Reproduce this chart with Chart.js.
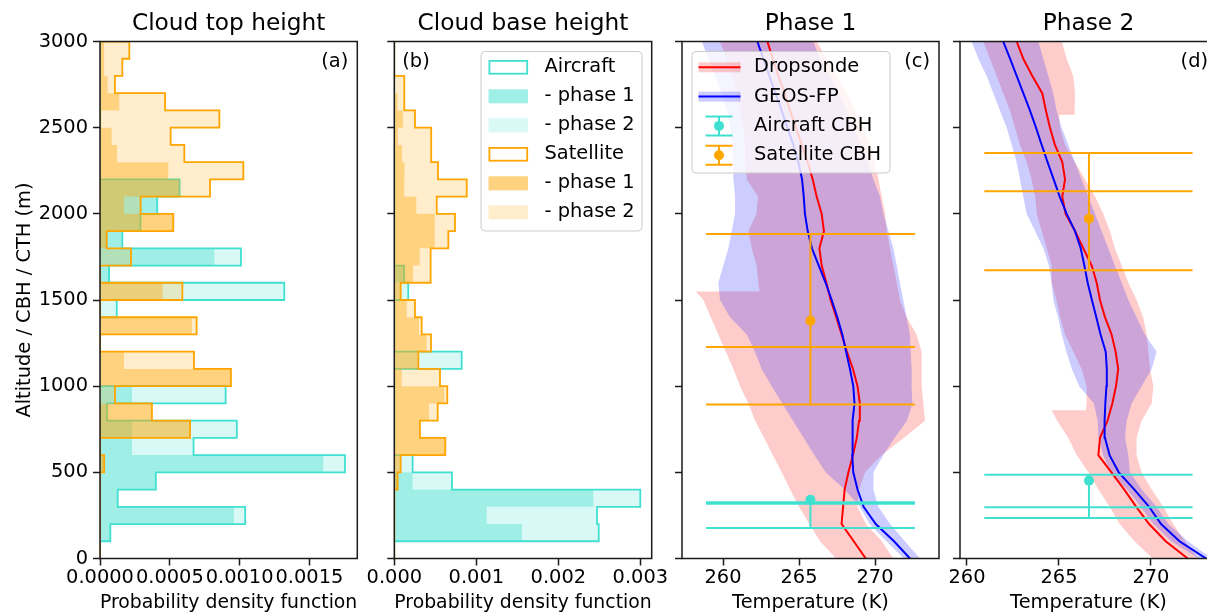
<!DOCTYPE html>
<html>
<head>
<meta charset="utf-8">
<title>Cloud heights and temperature profiles</title>
<script src="https://cdn.jsdelivr.net/npm/chart.js@4.4.1/dist/chart.umd.min.js"></script>
<style>
  html, body { margin: 0; padding: 0; background: #fff; overflow: hidden; }
  #fig { position: relative; width: 1207px; height: 613px; overflow: hidden; }
  #fig canvas { position: absolute; left: 0; top: 0; }
</style>
</head>
<body>
<div id="fig">
  <canvas id="panelA" width="1240" height="613"></canvas>
  <canvas id="panelB" width="1240" height="613"></canvas>
  <canvas id="panelC" width="1240" height="613"></canvas>
  <canvas id="panelD" width="1240" height="613"></canvas>
</div>
<script>
// ── histogram bins (lower edge, m) ──
const binLow = [0, 100, 200, 300, 400, 500, 600, 700, 800, 900, 1000, 1100, 1200, 1300, 1400,
  1500, 1600, 1700, 1800, 1900, 2000, 2100, 2200, 2300, 2400, 2500, 2600, 2700, 2800, 2900];
const BIN = 100;

// (a) cloud top height – probability density, stacked phase 1 + phase 2
const ctaAirP1 = [0, 0.000074, 0.00096, 0.000127, 0.0004, 0.0016, 0.00023, 0.00023, 0.00005, 0.00023,
  0, 0, 0, 0, 0, 0, 0.000065, 0.00082, 0.00016, 0.00029, 0.00041, 0.00057, 0, 0, 0, 0, 0, 0, 0, 0];
const ctaAirP2 = [0, 0, 0.00008, 0, 0, 0.000155, 0.00044, 0.00075, 0, 0.00067,
  0, 0, 0, 0, 0.00012, 0.00132, 0, 0.00019, 0, 0, 0, 0, 0, 0, 0, 0, 0, 0, 0, 0];
const ctaSatP1 = [0, 0, 0, 0, 0, 0.00003, 0, 0.000645, 0.000372, 0,
  0.000938, 0.000172, 0, 0.000659, 0, 0.000449, 0, 0, 0.000048, 0.000525,
  0.000172, 0.00057, 0.00049, 0.000122, 0.000084, 0.00001, 0.000138, 0.000055, 0.00003, 0.00003];
const ctaSatP2 = [0, 0, 0, 0, 0, 0, 0, 0, 0, 0.000107,
  0, 0.000501, 0, 0.000033, 0, 0.000141, 0, 0.000222, 0, 0,
  0.000119, 0.000218, 0.000537, 0.000482, 0.000422, 0.000845, 0.000328, 0.000052, 0.00013, 0.00018];

// (b) cloud base height
const cbhAirP1 = [0, 0.001557, 0.001127, 0.002427, 0.000224, 0, 0, 0, 0, 0,
  0, 0, 0, 0, 0, 0, 0.00012, 0, 0, 0, 0, 0, 0, 0, 0, 0, 0, 0, 0, 0];
const cbhAirP2 = [0, 0.000936, 0.001345, 0.000573, 0.00048, 0.000224, 0, 0, 0, 0,
  0, 0.000822, 0, 0, 0, 0.00017, 0, 0, 0, 0, 0, 0, 0, 0, 0, 0, 0, 0, 0, 0];
const cbhSatP1 = [0, 0, 0, 0, 0.00004, 0.000078, 0.000622, 0.000313, 0.000423, 0.00061,
  0.00009, 0.000293, 0.000395, 0.000301, 0.000151, 0.000078, 0.000228, 0.00031, 0.000496, 0.000493,
  0.00027, 0.00013, 0.00012, 0.000094, 0.000045, 0.000106, 0.00004, 0, 0, 0];
const cbhSatP2 = [0, 0, 0, 0, 0, 0, 0, 0, 0.000106, 0.000036,
  0.000467, 0, 0.000053, 0.000033, 0.000101, 0, 0.000215, 0.000133, 0.000163, 0.000247,
  0.000247, 0.000753, 0.000413, 0.000356, 0.000405, 0.000146, 0.000082, 0.000122, 0, 0];

// ── temperature profiles (K) on altitude levels ──
const profAlt = [0, 100, 200, 300, 400, 500, 600, 700, 800, 900, 1000, 1100, 1200, 1300, 1400, 1500,
  1600, 1700, 1800, 1900, 2000, 2100, 2200, 2300, 2400, 2500, 2600, 2700, 2800, 2900, 3000];

// Phase 1
const dropT1 = [269.39, 268.60, 267.80, 267.90, 268.00, 268.25, 268.55, 268.80, 268.95, 269.00, 268.85,
  268.55, 268.15, 267.80, 267.45, 267.08, 266.80, 266.49, 266.34, 266.64, 266.49, 266.16, 265.90,
  265.57, 265.18, 264.80, 264.41, 264.06, 263.64, 263.27, 262.92];
// left edge of the dropsonde spread has a step near 1550 m
const dropLoAlt1 = [0, 100, 200, 300, 400, 500, 600, 700, 800, 900, 1000, 1100, 1200, 1300, 1400, 1500,
  1550, 1550, 1600, 1700, 1800, 1900, 2000, 2100, 2200, 2300, 2400, 2500, 2600, 2700, 2800, 2900, 3000];
const dropLo1 = [267.43, 266.38, 265.68, 265.00, 264.41, 263.86, 263.27, 262.70, 262.11, 261.67, 261.12,
  260.68, 260.18, 259.69, 259.19, 258.71, 258.20, 262.40, 262.32, 262.21, 261.89, 261.67, 262.20,
  262.30, 261.56, 261.45, 261.45, 261.34, 261.12, 260.90, 260.57, 260.24, 259.80];
const dropHi1 = [271.20, 270.45, 269.40, 268.85, 268.95, 269.35, 270.44, 271.91, 273.29, 273.18, 273.07,
  273.07, 273.07, 272.74, 272.08, 271.64, 271.43, 271.21, 270.99, 270.77, 270.66, 270.44, 270.22,
  270.00, 269.67, 269.23, 268.68, 268.14, 267.48, 266.82, 266.16];
const geosT1 = [272.30, 271.25, 270.05, 269.25, 268.85, 268.57, 268.50, 268.50, 268.55, 268.65, 268.57,
  268.35, 268.10, 267.85, 267.52, 267.15, 266.75, 266.30, 265.85, 265.57, 265.39, 265.31, 265.20,
  264.96, 264.63, 264.23, 263.86, 263.44, 263.05, 262.65, 262.26];
const geosLo1 = [271.90, 270.75, 269.65, 269.00, 268.00, 266.75, 266.00, 265.30, 264.60, 263.90, 263.20,
  262.54, 262.10, 261.56, 260.46, 259.80, 259.69, 260.02, 260.35, 260.57, 260.79, 260.79, 260.68,
  260.68, 260.57, 260.46, 260.24, 259.91, 259.47, 259.04, 258.60];
const geosHi1 = [272.96, 271.97, 270.99, 270.22, 269.89, 269.90, 270.55, 271.30, 272.10, 272.46, 272.41,
  272.41, 272.35, 272.30, 272.08, 271.86, 271.64, 271.43, 271.21, 270.88, 270.55, 270.33, 269.89,
  269.56, 269.12, 268.57, 268.14, 267.59, 267.04, 266.38, 265.94];

// Phase 2
const dropT2 = [272.00, 270.80, 269.90, 269.20, 268.55, 267.85, 267.14, 267.23, 267.64, 267.90, 268.10,
  268.22, 268.08, 267.86, 267.50, 267.23, 267.05, 266.78, 266.32, 265.87, 265.36, 265.18, 265.33,
  265.18, 264.78, 264.51, 264.29, 264.09, 263.55, 263.06, 262.70];
// dropsonde spread edges with steps near 860 m (left) and 2575 m (right)
const dropLoAlt2 = [0, 100, 200, 300, 400, 500, 600, 700, 800, 860, 860, 900, 1000, 1100, 1200, 1300,
  1400, 1500, 1600, 1700, 1800, 1900, 2000, 2100, 2200, 2300, 2400, 2500, 2600, 2700, 2800, 2900, 3000];
const dropLo2 = [270.10, 269.10, 268.30, 267.75, 267.15, 266.60, 265.96, 265.50, 264.90, 264.60, 266.45,
  266.50, 266.50, 266.23, 265.78, 265.33, 265.06, 264.87, 264.60, 264.60, 264.33, 264.06, 263.79,
  263.70, 263.51, 263.24, 262.88, 262.61, 262.34, 261.97, 261.61, 261.25, 260.89];
const dropHiAlt2 = [0, 100, 200, 300, 400, 500, 600, 700, 800, 900, 1000, 1100, 1200, 1300, 1400, 1500,
  1600, 1700, 1800, 1900, 2000, 2100, 2200, 2300, 2400, 2500, 2575, 2575, 2700, 2800, 2900, 3000];
const dropHi2 = [272.57, 271.85, 271.21, 270.67, 270.04, 269.49, 269.22, 269.22, 269.49, 270.04, 270.13,
  269.95, 269.86, 269.77, 269.58, 269.22, 268.77, 268.41, 268.04, 267.77, 267.41, 266.96, 266.41,
  265.87, 265.33, 265.05, 265.00, 265.85, 265.87, 265.78, 265.42, 265.15];
const geosT2 = [273.00, 271.55, 270.55, 269.90, 269.10, 268.25, 267.75, 267.50, 267.48, 267.52, 267.58,
  267.60, 267.54, 267.26, 267.03, 266.79, 266.56, 266.38, 266.18, 265.87, 265.42, 265.04, 264.71,
  264.38, 264.06, 263.75, 263.42, 263.06, 262.70, 262.34, 261.97];
const geosLo2 = [272.60, 271.10, 270.13, 269.45, 268.70, 267.80, 267.40, 267.15, 267.10, 266.90, 266.10,
  265.70, 265.40, 265.15, 264.95, 264.69, 264.60, 264.45, 264.15, 263.70, 263.24, 263.06, 262.88,
  262.70, 262.43, 262.16, 261.79, 261.43, 261.07, 260.62, 260.25];
const geosHi2 = [273.30, 272.00, 270.95, 270.30, 269.50, 268.86, 268.77, 268.59, 268.68, 268.95, 269.49,
  270.04, 270.31, 269.67, 269.22, 268.77, 268.41, 268.04, 267.68, 267.32, 266.96, 266.59, 266.23,
  265.87, 265.51, 265.15, 264.87, 264.69, 264.42, 264.15, 263.88];

// cloud base height markers: [phase 1, phase 2]
const cbhMarkT = [265.75, 266.63];
const airCbhMean = [341, 452];
const airCbhLevels = [[326, 318, 177], [486, 297, 235]];
const satCbhMean = [1380, 1972];
const satCbhLevels = [[1883, 1227, 893], [2353, 2131, 1672]];
const capSpan = [[258.88, 272.63], [260.94, 272.26]];

// ticks
const yTicks = [0, 500, 1000, 1500, 2000, 2500, 3000];
const xTicksA = [0, 0.0005, 0.001, 0.0015];
const xTicksB = [0, 0.001, 0.002, 0.003];
const xTicksT = [260, 265, 270];

// ── style ──
const TEAL = '64,224,208';
const ORANGE = '255,165,0';
const rgba = (c, a) => `rgba(${c},${a})`;
const FONT = "'DejaVu Sans', sans-serif";
const FS = 19.4;
const W = 1240, H = 613, TOP = 41.5, BOTTOM = 558.5;

Chart.defaults.font.family = FONT;
Chart.defaults.font.size = FS;
Chart.defaults.color = '#000';

// ── helpers ──
function stepFill(lo, hi) {
  const pts = [];
  binLow.forEach((b, i) => pts.push({x: hi[i], y: b}, {x: hi[i], y: b + BIN}));
  for (let i = binLow.length - 1; i >= 0; i--) pts.push({x: lo[i], y: binLow[i] + BIN}, {x: lo[i], y: binLow[i]});
  return pts;
}

function stepLine(v) {
  const pts = [{x: 0, y: binLow[0]}];
  binLow.forEach((b, i) => pts.push({x: v[i], y: b}, {x: v[i], y: b + BIN}));
  pts.push({x: 0, y: binLow[binLow.length - 1] + BIN});
  return pts;
}

function histSets(p1, p2, col, base) {
  const total = p1.map((v, i) => v + p2[i]);
  const zero = p1.map(() => 0);
  return [
    { data: stepFill(zero, p1), fill: 'shape', backgroundColor: rgba(col, 0.5), borderColor: 'transparent', borderWidth: 0, order: base + 2 },
    { data: stepFill(p1, total), fill: 'shape', backgroundColor: rgba(col, 0.2), borderColor: 'transparent', borderWidth: 0, order: base + 1 },
    { data: stepLine(total), fill: false, borderColor: rgba(col, 1), borderWidth: 1.8, order: base }
  ];
}

// polygon: up the left edge, back down the right edge
function band(loAlt, lo, hiAlt, hi) {
  const pts = loAlt.map((a, i) => ({x: lo[i], y: a}));
  for (let i = hiAlt.length - 1; i >= 0; i--) pts.push({x: hi[i], y: hiAlt[i]});
  return pts;
}
const curve = t => profAlt.map((a, i) => ({x: t[i], y: a}));

function cbhSets(T, mean, levels, span, col) {
  const sets = levels.map(a => ({
    data: [{x: span[0], y: a}, {x: span[1], y: a}], borderColor: col, borderWidth: 2, fill: false, order: 1
  }));
  sets.push({ data: [{x: T, y: Math.max(...levels)}, {x: T, y: Math.min(...levels)}], borderColor: col, borderWidth: 2, fill: false, order: 1 });
  sets.push({ data: [{x: T, y: mean}], showLine: false, pointRadius: 5, pointBackgroundColor: col, pointBorderWidth: 0, order: 0 });
  return sets;
}

function profileSets(p) {
  return [
    { data: band(p.dLoAlt, p.dLo, p.dHiAlt, p.dHi), fill: 'shape', backgroundColor: 'rgba(255,0,0,0.2)', borderColor: 'transparent', borderWidth: 0, order: 10 },
    { data: band(profAlt, p.gLo, profAlt, p.gHi), fill: 'shape', backgroundColor: 'rgba(0,0,255,0.2)', borderColor: 'transparent', borderWidth: 0, order: 9 },
    { data: curve(p.dT), fill: false, borderColor: '#ff0000', borderWidth: 2, order: 5 },
    { data: curve(p.gT), fill: false, borderColor: '#0000ff', borderWidth: 2, order: 4 },
    ...cbhSets(cbhMarkT[p.k], satCbhMean[p.k], satCbhLevels[p.k], capSpan[p.k], 'rgb(' + ORANGE + ')'),
    ...cbhSets(cbhMarkT[p.k], airCbhMean[p.k], airCbhLevels[p.k], capSpan[p.k], 'rgb(' + TEAL + ')')
  ];
}

function legendBox(ctx, x, y, w, h) {
  const r = 4;
  ctx.beginPath();
  ctx.moveTo(x + r, y);
  ctx.arcTo(x + w, y, x + w, y + h, r);
  ctx.arcTo(x + w, y + h, x, y + h, r);
  ctx.arcTo(x, y + h, x, y, r);
  ctx.arcTo(x, y, x + w, y, r);
  ctx.closePath();
  ctx.fillStyle = 'rgba(255,255,255,0.8)';
  ctx.fill();
  ctx.strokeStyle = '#cccccc';
  ctx.lineWidth = 1;
  ctx.stroke();
}

function decoPlugin(title, letter, letterLeft) {
  return {
    id: 'deco',
    afterDraw(chart) {
      const {ctx, chartArea: a} = chart;
      ctx.save();
      ctx.strokeStyle = '#1a1a1a';
      ctx.lineWidth = 1.5;
      ctx.strokeRect(a.left, a.top, a.right - a.left, a.bottom - a.top);
      ctx.fillStyle = '#000';
      ctx.textAlign = 'center';
      ctx.textBaseline = 'alphabetic';
      ctx.font = `${FS * 1.2}px ${FONT}`;
      ctx.fillText(title, (a.left + a.right) / 2, a.top - 11.6);
      ctx.font = `${FS}px ${FONT}`;
      ctx.textBaseline = 'middle';
      ctx.textAlign = letterLeft ? 'left' : 'right';
      ctx.fillText(letter, letterLeft ? a.left + 8 : a.right - 9, a.top + 20);
      ctx.restore();
    }
  };
}

const legendB = {
  id: 'legendB',
  afterDraw(chart) {
    const ctx = chart.ctx;
    ctx.save();
    legendBox(ctx, 481, 51.5, 161, 179.5);
    const rows = [
      ['Aircraft', TEAL, 0], ['- phase 1', TEAL, 0.5], ['- phase 2', TEAL, 0.2],
      ['Satellite', ORANGE, 0], ['- phase 1', ORANGE, 0.5], ['- phase 2', ORANGE, 0.2]
    ];
    rows.forEach(([label, col, alpha], i) => {
      const y = 67.3 + i * 29;
      if (alpha === 0) {
        ctx.strokeStyle = rgba(col, 1);
        ctx.lineWidth = 1.8;
        ctx.strokeRect(489.4, y - 6.4, 37.8, 12.8);
      } else {
        ctx.fillStyle = rgba(col, alpha);
        ctx.fillRect(488.5, y - 7, 39.5, 14);
      }
      ctx.fillStyle = '#000';
      ctx.font = `${FS}px ${FONT}`;
      ctx.textAlign = 'left';
      ctx.textBaseline = 'middle';
      ctx.fillText(label, 544.5, y);
    });
    ctx.restore();
  }
};

const legendC = {
  id: 'legendC',
  afterDraw(chart) {
    const ctx = chart.ctx;
    ctx.save();
    legendBox(ctx, 692, 51.5, 198, 121.5);
    const rows = [
      ['Dropsonde', 'line', '255,0,0'], ['GEOS-FP', 'line', '0,0,255'],
      ['Aircraft CBH', 'err', TEAL], ['Satellite CBH', 'err', ORANGE]
    ];
    rows.forEach(([label, kind, col], i) => {
      const y = 67.3 + i * 29.3;
      if (kind === 'line') {
        ctx.fillStyle = rgba(col, 0.2);
        ctx.fillRect(698.5, y - 5, 42, 10);
        ctx.strokeStyle = rgba(col, 1);
        ctx.lineWidth = 2;
        ctx.beginPath(); ctx.moveTo(698.5, y); ctx.lineTo(740.5, y); ctx.stroke();
      } else {
        ctx.strokeStyle = rgba(col, 1);
        ctx.lineWidth = 2;
        ctx.beginPath();
        ctx.moveTo(705.5, y - 9.5); ctx.lineTo(732.5, y - 9.5);
        ctx.moveTo(705.5, y + 9.5); ctx.lineTo(732.5, y + 9.5);
        ctx.moveTo(719, y - 9.5); ctx.lineTo(719, y + 9.5);
        ctx.stroke();
        ctx.fillStyle = rgba(col, 1);
        ctx.beginPath(); ctx.arc(719, y, 5, 0, Math.PI * 2); ctx.fill();
      }
      ctx.fillStyle = '#000';
      ctx.font = `${FS}px ${FONT}`;
      ctx.textAlign = 'left';
      ctx.textBaseline = 'middle';
      ctx.fillText(label, 754, y);
    });
    ctx.restore();
  }
};

// ── axes ──
const tickGrid = { drawOnChartArea: false, drawTicks: true, tickLength: 7, tickWidth: 1.5, tickColor: '#1a1a1a', offset: false };

function yAxis(showLabels) {
  return {
    type: 'linear', min: 0, max: 3000, offset: false,
    afterBuildTicks: s => { s.ticks = yTicks.map(v => ({value: v})); },
    afterFit: s => { s.width = showLabels ? 100 : 10; },
    grid: tickGrid,
    border: { display: false },
    ticks: { display: showLabels, color: '#000', padding: 5, font: { size: FS }, callback: v => String(v) },
    title: {
      display: showLabels, text: 'Altitude / CBH / CTH (m)', color: '#000',
      font: { size: FS }, padding: { top: 13, bottom: 0 }
    }
  };
}

function xAxis(min, max, ticks, fmt, label) {
  return {
    type: 'linear', min, max, offset: false,
    afterBuildTicks: s => { s.ticks = ticks.map(v => ({value: v})); },
    afterFit: s => { s.height = H - BOTTOM; },
    grid: tickGrid,
    border: { display: false },
    ticks: { color: '#000', padding: 1, autoSkip: false, maxRotation: 0, minRotation: 0, font: { size: FS }, callback: v => fmt(v) },
    title: { display: true, text: label, color: '#000', font: { size: FS, lineHeight: 1.0 }, padding: { top: 0, bottom: 0.3 } }
  };
}

function makePanel(id, left, right, yLabels, xCfg, datasets, plugins) {
  const yw = yLabels ? 100 : 10;
  return new Chart(document.getElementById(id), {
    type: 'line',
    data: { datasets },
    options: {
      responsive: false, animation: false, devicePixelRatio: 1, events: [],
      indexAxis: 'y',
      layout: { padding: { left: left - yw, right: W - right, top: TOP, bottom: 0 } },
      elements: { point: { radius: 0 }, line: { tension: 0 } },
      plugins: { legend: { display: false }, tooltip: { enabled: false }, title: { display: false } },
      scales: { x: xCfg, y: yAxis(yLabels) }
    },
    plugins
  });
}

// ── panels ──
makePanel('panelA', 100, 357.3, true,
  xAxis(0, 0.001843, xTicksA, v => v.toFixed(4), 'Probability density function'),
  [...histSets(ctaAirP1, ctaAirP2, TEAL, 3), ...histSets(ctaSatP1, ctaSatP2, ORANGE, 0)],
  [decoPlugin('Cloud top height', '(a)', false)]);

makePanel('panelB', 394.3, 651.7, false,
  xAxis(0, 0.003139, xTicksB, v => v.toFixed(3), 'Probability density function'),
  [...histSets(cbhAirP1, cbhAirP2, TEAL, 3), ...histSets(cbhSatP1, cbhSatP2, ORANGE, 0)],
  [decoPlugin('Cloud base height', '(b)', true), legendB]);

makePanel('panelC', 682, 939, false,
  xAxis(257.3, 274.21, xTicksT, v => String(v), 'Temperature (K)'),
  profileSets({ k: 0, dT: dropT1, dLoAlt: dropLoAlt1, dLo: dropLo1, dHiAlt: profAlt, dHi: dropHi1,
    gT: geosT1, gLo: geosLo1, gHi: geosHi1 }),
  [decoPlugin('Phase 1', '(c)', false), legendC]);

makePanel('panelD', 960, 1217, false,
  xAxis(259.62, 273.59, xTicksT, v => String(v), 'Temperature (K)'),
  profileSets({ k: 1, dT: dropT2, dLoAlt: dropLoAlt2, dLo: dropLo2, dHiAlt: dropHiAlt2, dHi: dropHi2,
    gT: geosT2, gLo: geosLo2, gHi: geosHi2 }),
  [decoPlugin('Phase 2', '(d)', false)]);
</script>
</body>
</html>
